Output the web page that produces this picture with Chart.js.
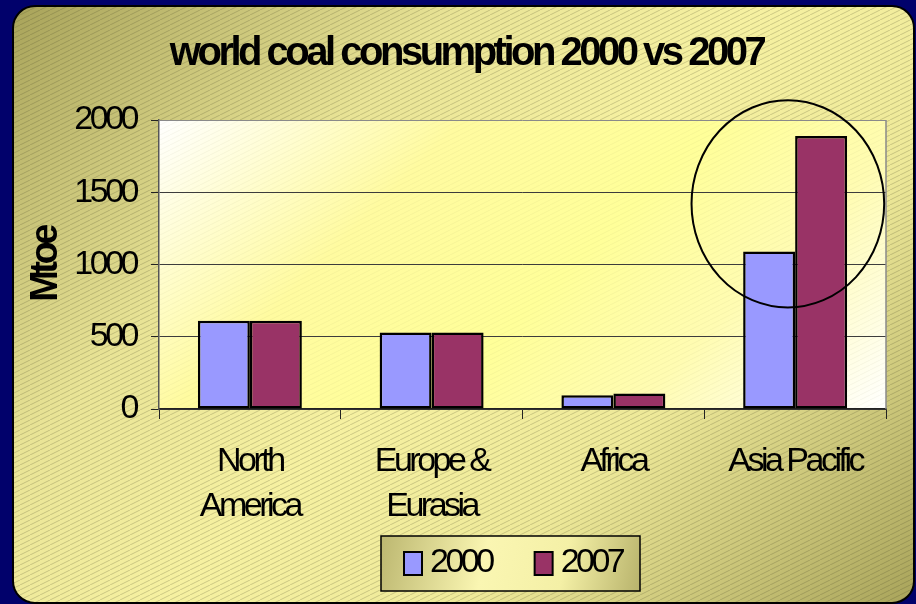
<!DOCTYPE html>
<html>
<head>
<meta charset="utf-8">
<script src="https://cdn.jsdelivr.net/npm/chart.js@4.4.1/dist/chart.umd.min.js"></script>
<style>
  html, body { margin: 0; padding: 0; background: #01016b; }
  #chart { display: block; }
</style>
</head>
<body>
<canvas id="chart" width="916" height="604"></canvas>
<script>
// regional coal consumption, Mtoe
const regions = [['North', 'America'], ['Europe &', 'Eurasia'], 'Africa', 'Asia Pacific'];
const years = ['2000', '2007'];
const coal2000 = [610, 530, 95, 1090];
const coal2007 = [610, 530, 108, 1890];
const yTicks = [0, 500, 1000, 1500, 2000];

const FONT = '"Liberation Sans", Arial, sans-serif';
const SPACING = '-3.5px';

// ring drawn round the Asia Pacific pair (value units / category widths)
const ring = { index: 3, shift: -0.04, center: 1420, rx: 0.53, ry: 717 };

function hatch(ctx, color) {
  const c = document.createElement('canvas');
  c.width = 10; c.height = 5;
  const g = c.getContext('2d');
  g.strokeStyle = color;
  g.lineWidth = 1;
  for (const dx of [-10, 0, 10]) {
    g.beginPath(); g.moveTo(dx, 5); g.lineTo(dx + 10, 0); g.stroke();
  }
  return ctx.createPattern(c, 'repeat');
}

const backdrop = {
  id: 'backdrop',
  beforeUpdate(chart) { chart.ctx.letterSpacing = SPACING; },
  beforeDraw(chart) {
    const { ctx, chartArea: a } = chart;
    ctx.letterSpacing = SPACING;
    ctx.save();
    // card
    const g = ctx.createLinearGradient(13, 6, 762, 755);
    g.addColorStop(0, '#a8a35a');
    g.addColorStop(0.3, '#e9e496');
    g.addColorStop(0.5, '#f6f1a1');
    g.addColorStop(0.7, '#eee999');
    g.addColorStop(1, '#a9a45b');
    ctx.beginPath();
    ctx.roundRect(13, 6, 901, 597, 22);
    ctx.fillStyle = g;
    ctx.fill();
    ctx.fillStyle = hatch(ctx, 'rgba(70,70,40,0.24)');
    ctx.fill();
    ctx.lineWidth = 2;
    ctx.strokeStyle = '#000';
    ctx.stroke();
    // plot area
    const d = (a.width + a.height) / 2;
    const p = ctx.createLinearGradient(a.left, a.top, a.left + d, a.top + d);
    p.addColorStop(0, '#ffffff');
    p.addColorStop(0.3, '#fffba0');
    p.addColorStop(0.55, '#ffff99');
    p.addColorStop(0.75, '#fffcb2');
    p.addColorStop(1, '#ffffff');
    ctx.fillStyle = p;
    ctx.fillRect(a.left, a.top, a.width, a.height);
    ctx.fillStyle = hatch(ctx, 'rgba(120,120,90,0.07)');
    ctx.fillRect(a.left, a.top, a.width, a.height);
    ctx.restore();
  },
  beforeDatasetsDraw(chart) {
    const { ctx, chartArea: a } = chart;
    ctx.save();
    ctx.strokeStyle = '#8a8a8a';
    ctx.lineWidth = 1.5;
    ctx.beginPath();
    ctx.moveTo(a.right, a.top);
    ctx.lineTo(a.right, a.bottom);
    ctx.stroke();
    ctx.restore();
  },
  afterDatasetsDraw(chart) {
    const { ctx, scales: { x, y } } = chart;
    const step = x.getPixelForValue(1) - x.getPixelForValue(0);
    const cx = x.getPixelForValue(ring.index) + ring.shift * step;
    const cy = y.getPixelForValue(ring.center);
    const ry = y.getPixelForValue(0) - y.getPixelForValue(ring.ry);
    ctx.save();
    ctx.beginPath();
    ctx.ellipse(cx, cy, ring.rx * step, ry, 0, 0, Math.PI * 2);
    ctx.lineWidth = 2;
    ctx.strokeStyle = '#000';
    ctx.stroke();
    ctx.restore();
  },
  afterDraw(chart) {
    // framed legend under the axis
    const { ctx } = chart;
    const box = { x: 381, y: 536, w: 259, h: 55 };
    ctx.save();
    const g = ctx.createLinearGradient(box.x, box.y, box.x + box.w, box.y + box.h);
    g.addColorStop(0, '#bcb770');
    g.addColorStop(0.4, '#faf6b2');
    g.addColorStop(0.7, '#f4f0a6');
    g.addColorStop(1, '#b8b36c');
    ctx.fillStyle = g;
    ctx.fillRect(box.x, box.y, box.w, box.h);
    ctx.lineWidth = 1.5;
    ctx.strokeStyle = '#000';
    ctx.strokeRect(box.x, box.y, box.w, box.h);
    ctx.font = `34px ${FONT}`;
    ctx.textBaseline = 'middle';
    let lx = box.x + 23;
    chart.data.datasets.forEach(ds => {
      ctx.fillStyle = ds.backgroundColor;
      ctx.fillRect(lx, 552, 18, 23);
      ctx.strokeStyle = '#000';
      ctx.lineWidth = 2;
      ctx.strokeRect(lx, 552, 18, 23);
      ctx.fillStyle = '#000';
      ctx.fillText(ds.label, lx + 26, 563);
      lx += 26 + ctx.measureText(ds.label).width + 43;
    });
    ctx.restore();
  }
};

new Chart(document.getElementById('chart'), {
  type: 'bar',
  data: {
    labels: regions,
    datasets: [
      { label: years[0], data: coal2000, backgroundColor: '#9999ff' },
      { label: years[1], data: coal2007, backgroundColor: '#993366' }
    ]
  },
  options: {
    responsive: false,
    animation: false,
    layout: { padding: { left: 47, right: 30, top: 0, bottom: 0 } },
    datasets: {
      bar: {
        borderColor: '#000',
        borderWidth: 2.5,
        borderSkipped: false,
        categoryPercentage: 0.572,
        barPercentage: 1
      }
    },
    plugins: {
      legend: { display: false },
      tooltip: { enabled: false },
      title: {
        display: true,
        text: 'world coal consumption 2000 vs 2007',
        color: '#000',
        font: { family: FONT, size: 40, weight: 'bold', lineHeight: 1 },
        padding: { top: 34, bottom: 46 }
      }
    },
    scales: {
      x: {
        grid: { offset: true, drawOnChartArea: false, tickLength: 10, color: '#222' },
        border: { color: '#222', width: 1.5 },
        ticks: {
          color: '#000',
          font: { family: FONT, size: 34, lineHeight: 1.3 },
          padding: 21,
          maxRotation: 0,
          autoSkip: false
        },
        afterFit(s) { s.height = 195; }
      },
      y: {
        min: 0,
        max: 2000,
        afterBuildTicks(s) { s.ticks = yTicks.map(v => ({ value: v })); },
        ticks: {
          color: '#000',
          font: { family: FONT, size: 34 },
          padding: 15,
          callback: v => String(v)
        },
        grid: {
          color: c => (c.tick && c.tick.value === 2000 ? '#8a8a8a' : '#3c3c3c'),
          tickColor: '#222',
          tickLength: 8
        },
        border: { color: '#555', width: 1.5 },
        title: {
          display: true,
          text: 'Mtoe',
          color: '#000',
          font: { family: FONT, size: 38, weight: 'bold' },
          padding: { top: -23, bottom: 0 }
        },
        afterFit(s) { s.width = 112; }
      }
    }
  },
  plugins: [backdrop]
});
</script>
</body>
</html>
